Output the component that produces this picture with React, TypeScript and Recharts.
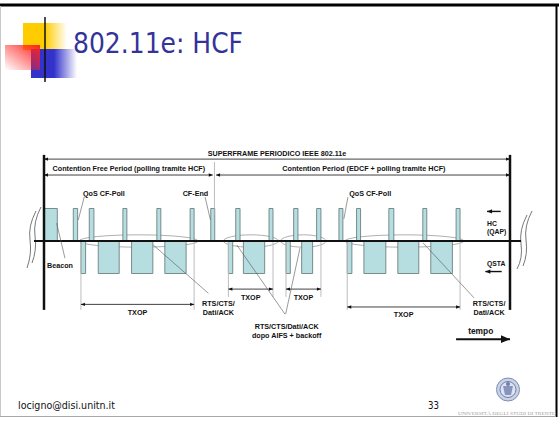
import React from 'react';
import { ComposedChart, XAxis, YAxis, ReferenceArea, ReferenceLine, ReferenceDot } from 'recharts';

// tempo in unità arbitrarie: un superframe = 140; livello +1 = HC, -1 = QSTA
const superframe = 140;
const cfEnd = 51.2;

const hcFrames: [number, number][] = [
  [0, 4], [8.8, 10.1], [13.6, 15.0], [23.7, 24.9], [33.9, 35.1], [43.9, 45.1], [50.1, 51.3],
  [57.6, 58.9], [67.6, 68.8], [75.0, 76.3], [81.9, 83.2], [88.6, 89.8], [93.9, 95.1],
  [103.6, 105.1], [113.8, 115.0], [123.8, 125.0],
];
const staFrames: [number, number][] = [
  [11.1, 12.5], [16.3, 22.6], [26.3, 32.7], [36.3, 42.7], [55.4, 56.7], [59.9, 66.3],
  [72.7, 74.0], [77.4, 80.7], [91.1, 92.5], [96.1, 102.7], [106.3, 112.6], [116.2, 122.7],
];

const txopSpans: [number, number][] = [[11.1, 45.1], [55.4, 68.8], [72.7, 83.2], [91.1, 125.0]];
const txopGroups: [number, number][] = [[10.5, 46.3], [53.9, 70.4], [71.1, 84.7], [90.4, 126.2]];
const txopRows = [-1.95, -1.48, -1.48, -2.03];
const txopDrops = [-2.12, -1.72, -1.72, -2.12];

const periodLabels = [
  'SUPERFRAME PERIODICO IEEE 802.11e',
  'Contention Free Period (polling tramite HCF)',
  'Contention Period (EDCF + polling tramite HCF)',
];
const periodSpans: [number, number][] = [[0, superframe], [0, 50.7], [51.7, superframe]];
const periodRows = [2.52, 2.03, 2.03];
const periodLabelPos: [number, number][] = [[70, 2.71], [25.5, 2.24], [96.1, 2.24]];

type Callout = { text: string[]; at: [number, number]; leaders: [number, number][][] };
const callouts: Callout[] = [
  { text: ['QoS CF-Poll'], at: [18, 1.48], leaders: [[[12.1, 1.36], [10.3, 0.65]]] },
  { text: ['CF-End'], at: [45.5, 1.48], leaders: [[[48.4, 1.35], [50.0, 0.65]]] },
  { text: ['Beacon'], at: [4.8, -0.74], leaders: [[[3.8, 0.55], [6.3, -0.53]]] },
  { text: ['RTS/CTS/', 'Dati/ACK'], at: [52.4, -1.92], leaders: [[[32.8, -0.12], [49.4, -1.61]]] },
  {
    text: ['RTS/CTS/Dati/ACK', 'dopo AIFS + backoff'], at: [72.9, -2.62],
    leaders: [[[57.9, -0.12], [72.4, -2.25]], [[76.9, -0.22], [72.6, -2.25]]],
  },
  { text: ['QoS CF-Poll'], at: [98, 1.48], leaders: [[[91.3, 1.35], [90.1, 0.68]]] },
  { text: ['RTS/CTS/', 'Dati/ACK'], at: [133.7, -1.92], leaders: [[[113.9, -0.06], [129.2, -1.75]]] },
];

const sideLabels: { text: string[]; at: [number, number] }[] = [
  { text: ['HC', '(QAP)'], at: [133.1, 0.55] },
  { text: ['QSTA'], at: [133.1, -0.69] },
];
const sideArrows: [number, number][][] = [
  [[137.2, 0.91], [133.1, 0.91]],
  [[137.5, -0.94], [132.6, -0.94]],
];
const tempoArrow: [number, number][] = [[123.8, -3.02], [140, -3.02]];

const FONT = '"Liberation Sans", Arial, sans-serif';
const BAR_FILL = '#B6DDDF';
const BAR_STROKE = '#5E7474';

const headPath = (x: number, y: number, a: number, size: number) => {
  const bx = x - size * Math.cos(a);
  const by = y - size * Math.sin(a);
  const w = size * 0.42;
  return `M${x},${y} L${bx - w * Math.sin(a)},${by + w * Math.cos(a)} L${bx + w * Math.sin(a)},${by - w * Math.cos(a)} Z`;
};

const arrowShape = (both: boolean, size: number, width: number) => (p: any) => {
  const { x1, y1, x2, y2 } = p;
  const a = Math.atan2(y2 - y1, x2 - x1);
  return (
    <g>
      <line x1={x1} y1={y1} x2={x2} y2={y2} stroke="#111" strokeWidth={width} />
      <path d={headPath(x2, y2, a, size)} fill="#111" />
      {both && <path d={headPath(x1, y1, a + Math.PI, size)} fill="#111" />}
    </g>
  );
};

const textShape = (lines: string[], anchor: 'middle' | 'start', size = 7.2, lineGap = 9) => (p: any) => (
  <text
    x={p.cx}
    y={p.cy}
    textAnchor={anchor}
    dominantBaseline="central"
    fontFamily={FONT}
    fontWeight="bold"
    fontSize={size}
    fill="#111"
  >
    {lines.map((l, i) => (
      <tspan key={i} x={p.cx} dy={i === 0 ? 0 : lineGap}>{l}</tspan>
    ))}
  </text>
);

const ellipseShape = (p: any) => (
  <ellipse
    cx={p.x + p.width / 2}
    cy={p.y + p.height / 2}
    rx={Math.abs(p.width) / 2}
    ry={Math.abs(p.height) / 2}
    fill="none"
    stroke="#9A9A9A"
    strokeWidth={0.8}
  />
);

const Slide = () => (
  <svg width={559} height={424} style={{ position: 'absolute', left: 0, top: 0 }}>
    <defs>
      <linearGradient id="yel" x1="0" x2="1" y1="0" y2="0">
        <stop offset="0" stopColor="#FFCC00" />
        <stop offset="0.5" stopColor="#FFCC00" />
        <stop offset="1" stopColor="#FFCC00" stopOpacity="0" />
      </linearGradient>
      <linearGradient id="blu" x1="0" x2="1" y1="0" y2="0">
        <stop offset="0" stopColor="#3333CC" />
        <stop offset="0.5" stopColor="#3333CC" />
        <stop offset="1" stopColor="#3333CC" stopOpacity="0" />
      </linearGradient>
      <linearGradient id="red" x1="1" x2="0" y1="0" y2="1">
        <stop offset="0" stopColor="#FF2222" />
        <stop offset="1" stopColor="#FF2222" stopOpacity="0" />
      </linearGradient>
      <linearGradient id="rule" x1="0" x2="1" y1="0" y2="0">
        <stop offset="0" stopColor="#111" />
        <stop offset="1" stopColor="#B0B0B0" />
      </linearGradient>
    </defs>
    <rect x={0} y={0} width={559} height={424} fill="#fff" />
    <line x1={0} y1={5} x2={559} y2={5} stroke="#000" strokeWidth={3} />
    <line x1={556.5} y1={5} x2={556.5} y2={417} stroke="#000" strokeWidth={2} />
    <line x1={0.5} y1={6} x2={0.5} y2={417} stroke="#C8C8C8" strokeWidth={1} />
    <line x1={0} y1={416.5} x2={556} y2={416.5} stroke="#A8A8A8" strokeWidth={1} />

    <rect x={23} y={23} width={44} height={27} fill="url(#yel)" />
    <rect x={31} y={49} width={46} height={29} fill="url(#blu)" />
    <rect x={5} y={45} width={35} height={25} fill="url(#red)" />
    <line x1={25} y1={66} x2={559} y2={66} stroke="url(#rule)" strokeWidth={1.6} />
    <line x1={45} y1={17} x2={45} y2={82} stroke="#111" strokeWidth={1.5} />
    <text x={73} y={53} fontFamily='"DejaVu Sans", Tahoma, sans-serif' fontSize={28} fill="#333399"
      textLength={170} lengthAdjust="spacingAndGlyphs">802.11e: HCF</text>

    <text x={18} y={409} fontFamily='"DejaVu Sans", Tahoma, sans-serif' fontSize={10.5} fill="#111"
      textLength={97} lengthAdjust="spacingAndGlyphs">locigno@disi.unitn.it</text>
    <text x={428} y={409} fontFamily='"DejaVu Sans", Tahoma, sans-serif' fontSize={10.5} fill="#111"
      textLength={11} lengthAdjust="spacingAndGlyphs">33</text>

    <circle cx={508} cy={389.5} r={11.5} fill="#C9D2E6" stroke="#7F8DB5" strokeWidth={1} />
    <circle cx={508} cy={389.5} r={8} fill="#DDE3F0" stroke="#6F7FAD" strokeWidth={1} />
    <path d="M503,386 L513,386 L511,395 L505,395 Z" fill="#8894BD" />
    <circle cx={508} cy={384} r={2} fill="#6E7CAA" />
    <text x={458} y={415} fontFamily='"Liberation Serif", serif' fontSize={5} fill="#A0A0A0"
      textLength={98} lengthAdjust="spacingAndGlyphs">UNIVERSITÀ DEGLI STUDI DI TRENTO</text>

    <g fill="none" stroke="#555" strokeWidth={0.8}>
      <path d="M41,207 Q33,222 35,236 Q37,250 32,263" />
      <path d="M36,211 Q28,226 30,240 Q32,254 27,268" />
      <path d="M532,211 Q524,226 526,240 Q528,254 523,266" />
      <path d="M527,215 Q519,230 521,244 Q523,258 517,269" />
    </g>
  </svg>
);

const Diagram = () => (
  <ComposedChart
    width={559}
    height={424}
    margin={{ top: 143.5, right: 49, bottom: 53, left: 44 }}
    data={[]}
  >
    <XAxis type="number" dataKey="t" domain={[0, superframe]} allowDataOverflow hide />
    <YAxis type="number" dataKey="v" domain={[-4, 3]} allowDataOverflow hide />

    {/* bordi delle TXOP */}
    {txopSpans.map(([a, b], i) => [a, b].map((t, j) => (
      <ReferenceLine key={`tb${i}${j}`} segment={[{ x: t, y: 0 }, { x: t, y: txopDrops[i] }]}
        stroke="#BDBDBD" strokeWidth={1} ifOverflow="visible" />
    )))}
    <ReferenceLine segment={[{ x: cfEnd, y: 2.43 }, { x: cfEnd, y: 0.8 }]} stroke="#AAAAAA" strokeWidth={0.8} ifOverflow="visible" />

    {txopGroups.map(([a, b], i) => (
      <ReferenceArea key={`el${i}`} x1={a} x2={b} y1={-0.19} y2={0.19} shape={ellipseShape} ifOverflow="visible" />
    ))}

    {hcFrames.map(([a, b], i) => (
      <ReferenceArea key={`hc${i}`} x1={a} x2={b} y1={0} y2={1} fill={BAR_FILL} fillOpacity={1}
        stroke={BAR_STROKE} strokeWidth={0.8} ifOverflow="visible" />
    ))}
    {staFrames.map(([a, b], i) => (
      <ReferenceArea key={`st${i}`} x1={a} x2={b} y1={-1} y2={0} fill={BAR_FILL} fillOpacity={1}
        stroke={BAR_STROKE} strokeWidth={0.8} ifOverflow="visible" />
    ))}

    {/* asse dei tempi e limiti del superframe */}
    <ReferenceLine segment={[{ x: -3, y: 0 }, { x: 143.3, y: 0 }]} stroke="#111" strokeWidth={2} ifOverflow="visible" />
    <ReferenceLine segment={[{ x: 0, y: 2.65 }, { x: 0, y: -2.12 }]} stroke="#111" strokeWidth={2.5} ifOverflow="visible" />
    <ReferenceLine segment={[{ x: superframe, y: 2.65 }, { x: superframe, y: -2.12 }]} stroke="#111" strokeWidth={2.5} ifOverflow="visible" />

    {periodSpans.map(([a, b], i) => (
      <ReferenceLine key={`pa${i}`} segment={[{ x: a, y: periodRows[i] }, { x: b, y: periodRows[i] }]}
        shape={arrowShape(true, 4, 0.8)} ifOverflow="visible" />
    ))}
    {periodLabels.map((l, i) => (
      <ReferenceDot key={`pl${i}`} x={periodLabelPos[i][0]} y={periodLabelPos[i][1]} r={0}
        shape={textShape([l], 'middle')} ifOverflow="visible" />
    ))}

    {txopSpans.map(([a, b], i) => (
      <ReferenceLine key={`ta${i}`} segment={[{ x: a, y: txopRows[i] }, { x: b, y: txopRows[i] }]}
        shape={arrowShape(true, 4, 0.8)} ifOverflow="visible" />
    ))}
    {txopSpans.map(([a, b], i) => (
      <ReferenceDot key={`tl${i}`} x={(a + b) / 2} y={txopRows[i] - 0.23} r={0}
        shape={textShape(['TXOP'], 'middle')} ifOverflow="visible" />
    ))}

    {callouts.flatMap((c, i) => c.leaders.map((seg, j) => (
      <ReferenceLine key={`cl${i}${j}`} segment={[{ x: seg[0][0], y: seg[0][1] }, { x: seg[1][0], y: seg[1][1] }]}
        stroke="#555" strokeWidth={0.6} ifOverflow="visible" />
    )))}
    {callouts.map((c, i) => (
      <ReferenceDot key={`ct${i}`} x={c.at[0]} y={c.at[1]} r={0}
        shape={textShape(c.text, 'middle')} ifOverflow="visible" />
    ))}

    {sideLabels.map((s, i) => (
      <ReferenceDot key={`sl${i}`} x={s.at[0]} y={s.at[1]} r={0}
        shape={textShape(s.text, 'start', 6.8, 8)} ifOverflow="visible" />
    ))}
    {sideArrows.map((s, i) => (
      <ReferenceLine key={`sa${i}`} segment={[{ x: s[0][0], y: s[0][1] }, { x: s[1][0], y: s[1][1] }]}
        shape={arrowShape(false, 5, 1.4)} ifOverflow="visible" />
    ))}

    <ReferenceDot x={131.2} y={-2.76} r={0} shape={textShape(['tempo'], 'middle', 8.4)} ifOverflow="visible" />
    <ReferenceLine segment={[{ x: tempoArrow[0][0], y: tempoArrow[0][1] }, { x: tempoArrow[1][0], y: tempoArrow[1][1] }]}
      shape={arrowShape(false, 9, 2)} ifOverflow="visible" />
  </ComposedChart>
);

export default function App() {
  return (
    <div style={{ position: 'fixed', left: 0, top: 0, width: 559, height: 424, background: '#fff', overflow: 'hidden' }}>
      <Slide />
      <div style={{ position: 'absolute', left: 0, top: 0 }}>
        <Diagram />
      </div>
    </div>
  );
}
